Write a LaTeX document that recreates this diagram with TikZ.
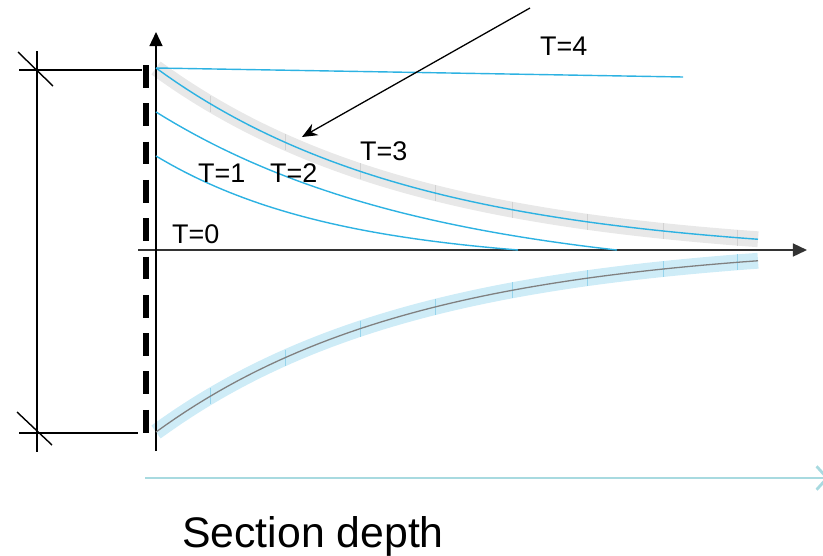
\documentclass[tikz,border=0pt]{standalone}
\usepackage{fontspec}
\setmainfont{Liberation Sans}
\usepackage{xcolor}
\usetikzlibrary{positioning,arrows.meta}
\definecolor{curveblue}{RGB}{45,178,226}
\definecolor{bandblue}{RGB}{206,236,247}
\definecolor{tickblue}{RGB}{150,212,236}
\definecolor{bandgray}{RGB}{232,232,232}
\definecolor{axisteal}{RGB}{168,218,224}

\begin{document}
\begin{tikzpicture}[
            x=0.03cm,y=-0.03cm,
            axis/.style={line width=1.6pt,-{Triangle[length=12pt,width=11pt]}},
            curve/.style={curveblue,line width=1.2pt},
            band/.style={line width=13.5pt},
            tlabel/.style={inner sep=0pt,anchor=base west,font=\fontsize{23}{27}\selectfont},
            dimline/.style={black,line width=1.2pt},
            pointer/.style={line width=1.1pt,-{Stealth[length=13pt,width=11pt]}},
            declare function={outer(\u)=190*exp(-(\u-156)/260)-8;
                              mida(\u)=168.6*exp(-(\u-156)/270)-30.6;
                              midb(\u)=108.5*exp(-(\u-156)/180)-14.5;}]
            \clip (0,0) rectangle (823,555);
            % bands round the outer curves
            \draw[band,bandgray] plot[domain=156:758,samples=60] (\x,{250-outer(\x)});
            \draw[band,bandblue] plot[domain=156:758,samples=60] (\x,{250+outer(\x)});
            \foreach \tx in {210,285,360,435,512,587,663,737}{
              \pgfmathsetmacro\ty{outer(\tx)}
              \draw[gray!35,line width=0.6pt] (\tx,250-\ty-8) -- (\tx,250-\ty+8);
              \draw[tickblue,line width=0.6pt] (\tx,250+\ty-8) -- (\tx,250+\ty+8);
            }
            % axes
            \draw[axis,black!80] (138,250) -- (807,250);
            \draw[axis] (156,451) -- (156,32);
            \draw[black,line width=5pt,dash pattern=on 19.5pt off 13.2pt] (146,65) -- (146,435);
            % profiles
            \draw[curve] (156,68) -- (683,77);
            \draw[curve] plot[domain=156:758,samples=60] (\x,{250-outer(\x)});
            \draw[curve] plot[domain=156:617,samples=50] (\x,{250-mida(\x)});
            \draw[curve] plot[domain=156:518,samples=50] (\x,{250-midb(\x)});
            \draw[gray,line width=1.1pt] plot[domain=156:758,samples=60] (\x,{250+outer(\x)});
            % dimension
            \draw[dimline] (37,51) -- (37,452);
            \draw[dimline] (19,70) -- (142,70);
            \draw[dimline] (19,433) -- (138,433);
            \draw[dimline] (18,52) -- (53,86);
            \draw[dimline] (17,412) -- (52,445);
            % labels
            \node[tlabel] (t4) at (540,55) {T=4};
            \node[tlabel] (t3) at (360,160) {T=3};
            \node[tlabel] (t2) at (270,182) {T=2};
            \node[tlabel] (t1) at (198,182) {T=1};
            \node[tlabel] (t0) at (172,243) {T=0};
            \coordinate (ptrstart) at (530,8);
            \coordinate (ptrtip) at (302,137);
            \draw[pointer] (ptrstart) -- (ptrtip);
            % section depth axis
            \coordinate (depthstart) at (145,478);
            \coordinate (depthend) at (829,478);
            \draw[axisteal,line width=2.4pt,-{Straight Barb[length=9pt,width=20pt]}] (depthstart) -- (depthend);
            \node[inner sep=0pt,anchor=base west,font=\fontsize{36.5}{42}\selectfont] (depth) at (182,547) {Section depth};
        \end{tikzpicture}
\end{document}
